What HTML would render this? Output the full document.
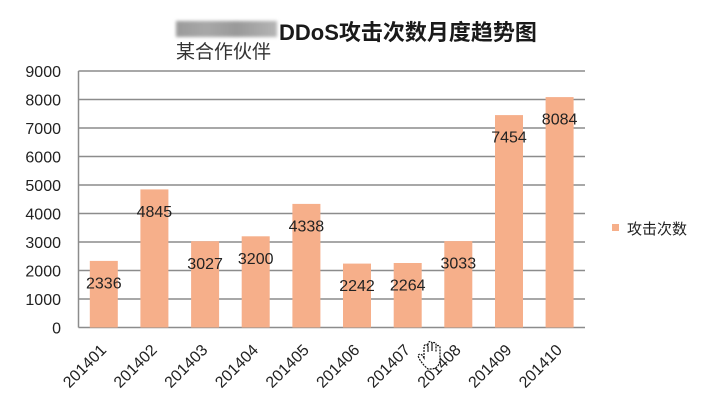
<!DOCTYPE html>
<html><head><meta charset="utf-8">
<style>
html,body{margin:0;padding:0;background:#fff;}
svg{display:block;}
text{font-family:"Liberation Sans","Noto Sans CJK SC",sans-serif;}
</style></head>
<body>
<svg width="704" height="404" viewBox="0 0 704 404" xmlns="http://www.w3.org/2000/svg">
<defs>
<filter id="bl" x="-10%" y="-30%" width="120%" height="160%"><feGaussianBlur stdDeviation="1.5"/></filter>
<linearGradient id="gb" x1="0" x2="1" y1="0" y2="0">
<stop offset="0" stop-color="#9a9a9a"/><stop offset="0.3" stop-color="#a8a8a8"/><stop offset="0.6" stop-color="#999"/><stop offset="1" stop-color="#b5b5b5"/>
</linearGradient>
</defs>
<rect width="704" height="404" fill="#fff"/>
<!-- title -->
<rect x="176" y="21" width="101" height="16" fill="url(#gb)" filter="url(#bl)"/>
<text x="279" y="40" font-size="22" font-weight="bold" fill="#1a1a1a">DDoS攻击次数月度趋势图</text>
<text x="176" y="58" font-size="19" fill="#333">某合作伙伴</text>
<!-- grid -->
<g stroke="#8c8c8c" stroke-width="1.5">
<line x1="78.5" x2="585" y1="71" y2="71"/>
<line x1="78.5" x2="585" y1="99.5" y2="99.5"/>
<line x1="78.5" x2="585" y1="128" y2="128"/>
<line x1="78.5" x2="585" y1="156.5" y2="156.5"/>
<line x1="78.5" x2="585" y1="185" y2="185"/>
<line x1="78.5" x2="585" y1="213.5" y2="213.5"/>
<line x1="78.5" x2="585" y1="242" y2="242"/>
<line x1="78.5" x2="585" y1="270.5" y2="270.5"/>
<line x1="78.5" x2="585" y1="299" y2="299"/>
<line x1="78.5" x2="585" y1="327.5" y2="327.5"/>
<line x1="78.5" x2="78.5" y1="71" y2="327.5"/>
</g>
<!-- y labels -->
<g font-size="16" fill="#222" text-anchor="end">
<text x="61" y="77">9000</text>
<text x="61" y="105.5">8000</text>
<text x="61" y="134">7000</text>
<text x="61" y="162.5">6000</text>
<text x="61" y="191">5000</text>
<text x="61" y="219.5">4000</text>
<text x="61" y="248">3000</text>
<text x="61" y="276.5">2000</text>
<text x="61" y="305">1000</text>
<text x="61" y="333.5">0</text>
</g>
<!-- bars -->
<g fill="#f6af8a">
<rect x="89.8" y="260.9" width="28" height="66.6"/>
<rect x="140.4" y="189.4" width="28" height="138.1"/>
<rect x="191.1" y="241.2" width="28" height="86.3"/>
<rect x="241.7" y="236.3" width="28" height="91.2"/>
<rect x="292.4" y="203.9" width="28" height="123.6"/>
<rect x="343.0" y="263.6" width="28" height="63.9"/>
<rect x="393.7" y="263.0" width="28" height="64.5"/>
<rect x="444.3" y="241.1" width="28" height="86.4"/>
<rect x="495.0" y="115.1" width="28" height="212.4"/>
<rect x="545.6" y="97.1" width="28" height="230.4"/>
</g>
<!-- value labels -->
<g font-size="16" fill="#222" text-anchor="middle">
<text x="103.8" y="288.5">2336</text>
<text x="154.4" y="217">4845</text>
<text x="205.1" y="268.8">3027</text>
<text x="255.7" y="263.9">3200</text>
<text x="306.4" y="231.5">4338</text>
<text x="357.0" y="291.2">2242</text>
<text x="407.7" y="290.6">2264</text>
<text x="458.3" y="268.7">3033</text>
<text x="509.0" y="142.7">7454</text>
<text x="559.6" y="124.7">8084</text>
</g>
<!-- x labels -->
<g font-size="16" fill="#222" text-anchor="end">
<text transform="translate(107.3,351) rotate(-45)">201401</text>
<text transform="translate(157.9,351) rotate(-45)">201402</text>
<text transform="translate(208.6,351) rotate(-45)">201403</text>
<text transform="translate(259.2,351) rotate(-45)">201404</text>
<text transform="translate(309.9,351) rotate(-45)">201405</text>
<text transform="translate(360.5,351) rotate(-45)">201406</text>
<text transform="translate(411.2,351) rotate(-45)">201407</text>
<text transform="translate(461.8,351) rotate(-45)">201408</text>
<text transform="translate(512.5,351) rotate(-45)">201409</text>
<text transform="translate(563.1,351) rotate(-45)">201410</text>
</g>
<!-- hand cursor -->
<path d="M424 358 L424 346 Q426 343 428 346 L428 352 L428 343 Q430 340 432 343 L432 351 L432 344 Q434 341 436 344 L436 352 L436 347 Q438 344 440 347 L440 360 Q439 368 432 369 L428 369 Q424 366 420 360 L418 356 Q419 353 422 355 Z" fill="#fff" stroke="#111" stroke-width="1.2" stroke-dasharray="2 1"/>
<!-- legend -->
<rect x="612" y="224" width="7" height="7" fill="#f6af8a"/>
<text x="627" y="234" font-size="15" fill="#222">攻击次数</text>
</svg>
</body></html>
